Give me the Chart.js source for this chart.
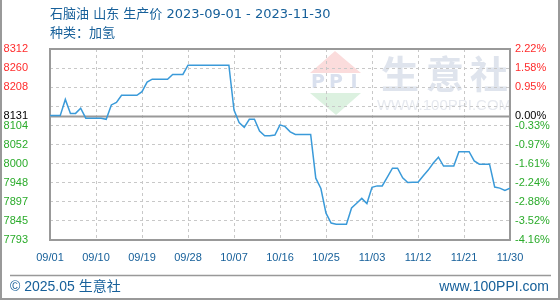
<!DOCTYPE html>
<html>
<head>
<meta charset="utf-8">
<script src="https://cdn.jsdelivr.net/npm/chart.js@4/dist/chart.umd.min.js"></script>
<style>
  html, body { margin: 0; padding: 0; background: #fff; }
  #wrap { width: 560px; height: 300px; position: relative; }
</style>
</head>
<body>
<div id="wrap"><canvas id="chart-price" width="560" height="300"></canvas></div>
<script>
// ── Data ──────────────────────────────────────────────
const xTickPos = [0, 9, 18, 27, 36, 45, 54, 63, 72, 81, 90];
const xTickLabels = ['09/01', '09/10', '09/19', '09/28', '10/07', '10/16', '10/25', '11/03', '11/12', '11/21', '11/30'];

const baseValue = 8131;
const yTickValues = [7793, 7845, 7897, 7948, 8000, 8052, 8104, 8131, 8156, 8208, 8260, 8312];
const yTickLabels = ['7793', '7845', '7897', '7948', '8000', '8052', '8104', '8131', '', '8208', '8260', '8312'];
const pctTickLabels = ['-4.16%', '-3.52%', '-2.88%', '-2.24%', '-1.61%', '-0.97%', '-0.33%', '0.00%', '', '0.95%', '1.58%', '2.22%'];

// daily price, 09/01 .. 11/30
const prices = [
  8131, 8131, 8131, 8175, 8137, 8137, 8151, 8124, 8124, 8124,
  8124, 8121, 8160, 8167, 8186, 8186, 8186, 8186, 8196, 8222,
  8230, 8230, 8230, 8230, 8243, 8243, 8243, 8268, 8268, 8268,
  8268, 8268, 8268, 8268, 8268, 8268, 8146, 8112, 8099, 8121,
  8121, 8089, 8076, 8076, 8078, 8106, 8101, 8087, 8080, 8080,
  8080, 8080, 7961, 7933, 7866, 7839, 7836, 7836, 7836, 7880,
  7893, 7906, 7892, 7936, 7940, 7940, 7964, 7988, 7988, 7962,
  7949, 7950, 7950, 7967, 7983, 8002, 8018, 7994, 7994, 7994,
  8033, 8033, 8033, 8008, 7999, 7999, 7999, 7937, 7934, 7928,
  7934
];

const titleText = '石脑油 山东 生产价 2023-09-01 - 2023-11-30';
const subTitleText = '种类：加氢';
const footLeft = '© 2025.05 生意社';
const footRight = 'www.100PPI.com';

// ── Styles ────────────────────────────────────────────
const FONT = "'Liberation Sans', 'Noto Sans CJK SC', sans-serif";
const TITLE_FONT = "'DejaVu Sans', 'Noto Sans CJK SC', sans-serif";
const BLUE_TEXT = '#17609a';
const UP = '#ff2b2b';
const DOWN = '#2aab2a';

function tickColor(v) {
  if (v > baseValue) return UP;
  if (v < baseValue) return DOWN;
  return '#000';
}

function fixTicks(values) {
  return scale => { scale.ticks = values.map(v => ({ value: v })); };
}

// ── Decoration plugin: title, footer, frame, watermark ──
const decor = {
  id: 'decor',
  beforeDraw(chart) {
    const { ctx } = chart;
    ctx.save();
    // watermark logo
    ctx.fillStyle = '#fbdcdc';
    ctx.beginPath();
    ctx.moveTo(335, 51); ctx.lineTo(361, 73); ctx.lineTo(310, 73); ctx.closePath(); ctx.fill();
    ctx.fillStyle = '#dcf1e0';
    ctx.beginPath();
    ctx.moveTo(310, 93); ctx.lineTo(361, 93); ctx.lineTo(336, 115); ctx.closePath(); ctx.fill();
    ctx.fillStyle = '#d9e0ee';
    ctx.font = "bold 19px 'DejaVu Sans', sans-serif";
    ctx.textBaseline = 'middle';
    ctx.textAlign = 'center';
    ctx.fillText('P', 318, 83); ctx.fillText('P', 336, 83); ctx.fillText('I', 354, 83);
    ctx.fillStyle = '#dfe4ed';
    ctx.font = "bold 38px 'Noto Sans CJK SC', sans-serif";
    ctx.fillText('生', 400, 74); ctx.fillText('意', 445, 74); ctx.fillText('社', 489, 74);
    ctx.fillStyle = '#e6e9ef';
    ctx.font = "15px 'Liberation Sans', sans-serif";
    ctx.fillText('WWW.100PPI.COM', 444, 106);
    ctx.restore();
  },
  beforeDatasetsDraw(chart) {
    const { ctx, chartArea: a, scales } = chart;
    const yb = Math.round(scales.y.getPixelForValue(baseValue)) + 0.5;
    ctx.save();
    ctx.strokeStyle = '#999';
    ctx.lineWidth = 2;
    ctx.beginPath(); ctx.moveTo(a.left, yb); ctx.lineTo(a.right, yb); ctx.stroke();
    ctx.strokeRect(a.left, a.top, a.right - a.left, a.bottom - a.top);
    ctx.restore();
  },
  afterDraw(chart) {
    const { ctx, width, height } = chart;
    ctx.save();
    ctx.fillStyle = BLUE_TEXT;
    ctx.textBaseline = 'middle';
    ctx.textAlign = 'left';
    ctx.font = '13px ' + TITLE_FONT;
    ctx.fillText(titleText, 50, 15);
    ctx.fillText(subTitleText, 50, 34);
    ctx.font = '14px ' + FONT;
    ctx.fillText(footLeft, 10, 287);
    ctx.textAlign = 'right';
    ctx.fillText(footRight, 549, 287);
    // footer rule and outer frame
    ctx.strokeStyle = '#999';
    ctx.lineWidth = 1.5;
    ctx.beginPath(); ctx.moveTo(10, 275.5); ctx.lineTo(551, 275.5); ctx.stroke();
    ctx.lineWidth = 2;
    ctx.beginPath();
    ctx.moveTo(1, 0); ctx.lineTo(1, height - 1); ctx.lineTo(width - 1, height - 1); ctx.lineTo(width - 1, 0);
    ctx.stroke();
    ctx.restore();
  }
};

// ── Chart ─────────────────────────────────────────────
new Chart(document.getElementById('chart-price'), {
  type: 'line',
  data: {
    datasets: [{
      data: prices.map((v, i) => ({ x: i, y: v })),
      borderColor: '#3a9ad9',
      borderWidth: 1.5,
      pointRadius: 0,
      tension: 0,
      fill: false,
    }]
  },
  options: {
    responsive: false,
    animation: false,
    layout: { padding: { top: 49, left: 0, right: 0, bottom: 0 } },
    plugins: { legend: { display: false }, tooltip: { enabled: false } },
    scales: {
      x: {
        type: 'linear',
        min: 0,
        max: 90,
        afterBuildTicks: fixTicks(xTickPos),
        afterFit: s => { s.height = 60; },
        grid: { color: '#c8c8c8', drawTicks: false, tickLength: 0 },
        border: { display: false, dash: [3, 3] },
        ticks: {
          padding: 11,
          maxRotation: 0,
          autoSkip: false,
          color: BLUE_TEXT,
          font: { family: FONT, size: 11 },
          callback: v => xTickLabels[xTickPos.indexOf(v)] ?? '',
        }
      },
      y: {
        position: 'left',
        min: 7793,
        max: 8312,
        afterBuildTicks: fixTicks(yTickValues),
        afterFit: s => { s.width = 50; },
        grid: {
          color: c => (c.tick && c.tick.value === baseValue) ? 'rgba(0,0,0,0)' : '#c8c8c8',
          drawTicks: false,
          tickLength: 0,
        },
        border: { display: false, dash: [3, 3] },
        ticks: {
          padding: 22,
          autoSkip: false,
          color: c => tickColor(c.tick.value),
          font: { family: FONT, size: 11 },
          callback: v => yTickLabels[yTickValues.indexOf(v)] ?? '',
        }
      },
      y1: {
        position: 'right',
        min: 7793,
        max: 8312,
        afterBuildTicks: fixTicks(yTickValues),
        afterFit: s => { s.width = 50; },
        grid: { display: false, drawTicks: false, tickLength: 0 },
        border: { display: false },
        ticks: {
          padding: 5,
          autoSkip: false,
          color: c => tickColor(c.tick.value),
          font: { family: FONT, size: 11 },
          callback: v => pctTickLabels[yTickValues.indexOf(v)] ?? '',
        }
      }
    }
  },
  plugins: [decor]
});
</script>
</body>
</html>
